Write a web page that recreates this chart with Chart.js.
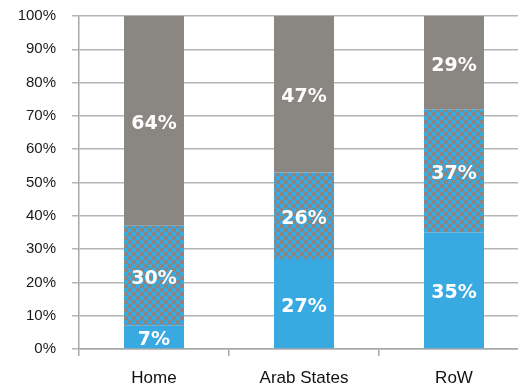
<!DOCTYPE html>
<html>
<head>
<meta charset="utf-8">
<script src="https://cdn.jsdelivr.net/npm/chart.js@4.4.1/dist/chart.umd.min.js"></script>
<style>
  html, body { margin: 0; padding: 0; background: #fff; overflow: hidden; }
  #wrap { width: 540px; height: 385px; }
</style>
</head>
<body>
<div id="wrap"><canvas id="chart" width="540" height="385"></canvas></div>
<script>
// categories and shares per segment (percent)
const regions = ['Home', 'Arab States', 'RoW'];
const lowShare = [7, 27, 35];
const midShare = [30, 26, 37];
const topShare = [64, 47, 29];
const yTicks = [0, 10, 20, 30, 40, 50, 60, 70, 80, 90, 100];

const BLUE = '#39a9e1';
const GREY = '#8a8682';

// checkerboard fill for the middle segment
function checker() {
  const p = document.createElement('canvas');
  p.width = 8; p.height = 8;
  const g = p.getContext('2d');
  g.fillStyle = BLUE; g.fillRect(0, 0, 8, 8);
  g.fillStyle = GREY;
  g.fillRect(0, 0, 4, 4);
  g.fillRect(4, 4, 4, 4);
  return document.getElementById('chart').getContext('2d').createPattern(p, 'repeat');
}

// white percentage labels centred in each segment
const segLabels = {
  id: 'segLabels',
  afterDatasetsDraw(chart) {
    const ctx = chart.ctx;
    const area = chart.chartArea;
    ctx.save();
    ctx.fillStyle = '#fff';
    ctx.font = 'normal bold 19px "DejaVu Sans", sans-serif';
    ctx.textAlign = 'center';
    ctx.textBaseline = 'middle';
    chart.data.datasets.forEach((ds, i) => {
      chart.getDatasetMeta(i).data.forEach((el, j) => {
        const top = Math.max(el.y, area.top);
        const y = (top + el.base) / 2 + 3;
        ctx.fillText(ds.data[j] + '%', el.x, y);
      });
    });
    ctx.restore();
  }
};

new Chart(document.getElementById('chart'), {
  type: 'bar',
  data: {
    labels: regions,
    datasets: [
      { data: lowShare, backgroundColor: BLUE },
      { data: midShare, backgroundColor: checker() },
      { data: topShare, backgroundColor: GREY }
    ]
  },
  options: {
    responsive: false,
    animation: false,
    events: [],
    categoryPercentage: 1,
    barPercentage: 0.4,
    layout: { padding: { top: 16, right: 11, left: 0, bottom: 0 } },
    plugins: { legend: { display: false }, tooltip: { enabled: false } },
    scales: {
      x: {
        stacked: true,
        grid: { drawOnChartArea: false, offset: true, tickLength: 7, color: '#a8a8a8', lineWidth: 1.5 },
        border: { color: '#a8a8a8', width: 1.5 },
        ticks: { color: '#111', font: { size: 17, family: '"Liberation Sans", Arial, sans-serif' }, padding: 12 },
        afterFit(s) { s.height = 36; }
      },
      y: {
        stacked: true,
        min: 0,
        max: 100,
        afterBuildTicks(s) { s.ticks = yTicks.map(v => ({ value: v })); },
        grid: { color: '#b5b5b5', lineWidth: 1.5, tickLength: 7 },
        border: { color: '#a8a8a8', width: 1.5 },
        ticks: {
          color: '#1a1a1a',
          font: { size: 15, family: '"Liberation Sans", Arial, sans-serif' },
          padding: 16,
          callback: v => v + '%'
        },
        afterFit(s) { s.width = 79; s.paddingTop = 0; s.paddingBottom = 0; }
      }
    }
  },
  plugins: [segLabels]
});
</script>
</body>
</html>
